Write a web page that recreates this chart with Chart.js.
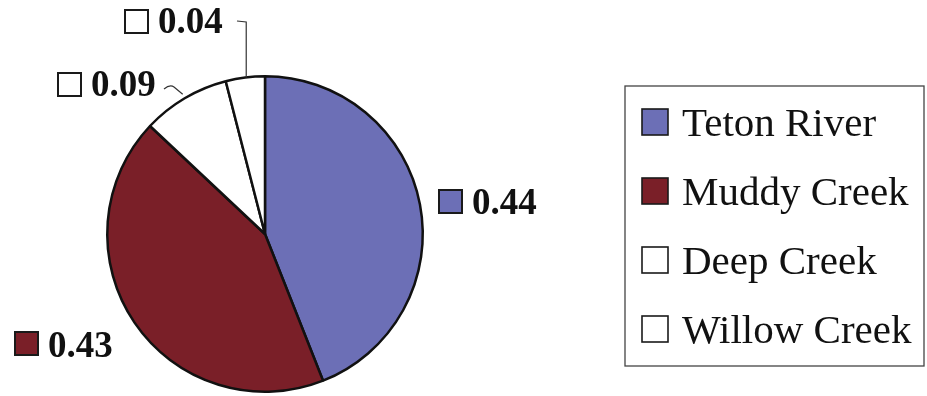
<!DOCTYPE html>
<html>
<head>
<meta charset="utf-8">
<script src="https://cdn.jsdelivr.net/npm/chart.js@4.4.1/dist/chart.umd.min.js"></script>
<style>
  html, body { margin: 0; padding: 0; background: #ffffff; }
  #wrap { width: 927px; height: 396px; position: relative; }
</style>
</head>
<body>
<div id="wrap"><canvas id="c" width="927" height="396"></canvas></div>
<script>
// ---- data ----
const categories = ['Teton River', 'Muddy Creek', 'Deep Creek', 'Willow Creek'];
const values = [0.44, 0.43, 0.09, 0.04];
const valueLabels = ['0.44', '0.43', '0.09', '0.04'];

// ---- styles ----
const sliceColors = ['#6c6fb6', '#7a1f28', '#ffffff', '#ffffff'];
const serif = "'Liberation Serif', 'Times New Roman', serif";

// label boxes (square left, square top, text baseline) and leader style per slice
const labelLayout = [
  { sx: 439, sy: 190, base: 214, leader: null },
  { sx: 15, sy: 332, base: 357, leader: null },
  { sx: 58, sy: 73, base: 96, leader: 'tilde' },
  { sx: 125, sy: 10, base: 33, leader: 'bracket' }
];

const labelPlugin = {
  id: 'labels',
  afterDraw(chart) {
    const ctx = chart.ctx;
    const meta = chart.getDatasetMeta(0);
    ctx.save();
    meta.data.forEach((arc, i) => {
      const p = arc.getProps(['x', 'y', 'startAngle', 'endAngle', 'outerRadius'], true);
      const mid = (p.startAngle + p.endAngle) / 2;
      const ax = p.x + Math.cos(mid) * p.outerRadius;
      const ay = p.y + Math.sin(mid) * p.outerRadius;
      const L = labelLayout[i];
      const sq = 23;
      // leader lines
      ctx.strokeStyle = '#333';
      ctx.lineWidth = 1.2;
      if (L.leader === 'tilde') {
        ctx.beginPath();
        ctx.moveTo(164, 89);
        ctx.quadraticCurveTo(170, 84, 174, 87);
        ctx.lineTo(ax - 2, ay - 4);
        ctx.stroke();
      } else if (L.leader === 'bracket') {
        ctx.beginPath();
        ctx.moveTo(237, 21);
        ctx.lineTo(ax + 1, 22);
        ctx.lineTo(ax + 1, ay);
        ctx.stroke();
      }
      // square marker
      ctx.fillStyle = sliceColors[i];
      ctx.fillRect(L.sx, L.sy, sq, sq);
      ctx.strokeStyle = '#1a1a1a';
      ctx.lineWidth = 2;
      ctx.strokeRect(L.sx, L.sy, sq, sq);
      // value text
      ctx.fillStyle = '#111';
      ctx.font = 'bold 37px ' + serif;
      ctx.textBaseline = 'alphabetic';
      ctx.textAlign = 'left';
      ctx.fillText(valueLabels[i], L.sx + sq + 10, L.base);
    });

    // legend box
    const lx = 625, ly = 86, lw = 299, lh = 280;
    ctx.strokeStyle = '#444';
    ctx.lineWidth = 1.3;
    ctx.strokeRect(lx, ly, lw, lh);
    ctx.font = '41px ' + serif;
    categories.forEach((name, i) => {
      const base = 136 + i * 69;
      const s = 26;
      ctx.fillStyle = sliceColors[i];
      ctx.fillRect(642, base - s - 1, s, s);
      ctx.strokeStyle = '#1a1a1a';
      ctx.lineWidth = 1.6;
      ctx.strokeRect(642, base - s - 1, s, s);
      ctx.fillStyle = '#111';
      ctx.fillText(name, 682, base);
    });
    ctx.restore();
  }
};

new Chart(document.getElementById('c'), {
  type: 'pie',
  data: {
    labels: categories,
    datasets: [{
      data: values,
      backgroundColor: sliceColors,
      borderColor: '#111111',
      borderWidth: 2.5
    }]
  },
  options: {
    responsive: false,
    animation: false,
    rotation: 0,
    layout: { padding: { left: 106, right: 503, top: 75, bottom: 3 } },
    plugins: {
      legend: { display: false },
      tooltip: { enabled: false },
      title: { display: false }
    }
  },
  plugins: [labelPlugin]
});
</script>
</body>
</html>
